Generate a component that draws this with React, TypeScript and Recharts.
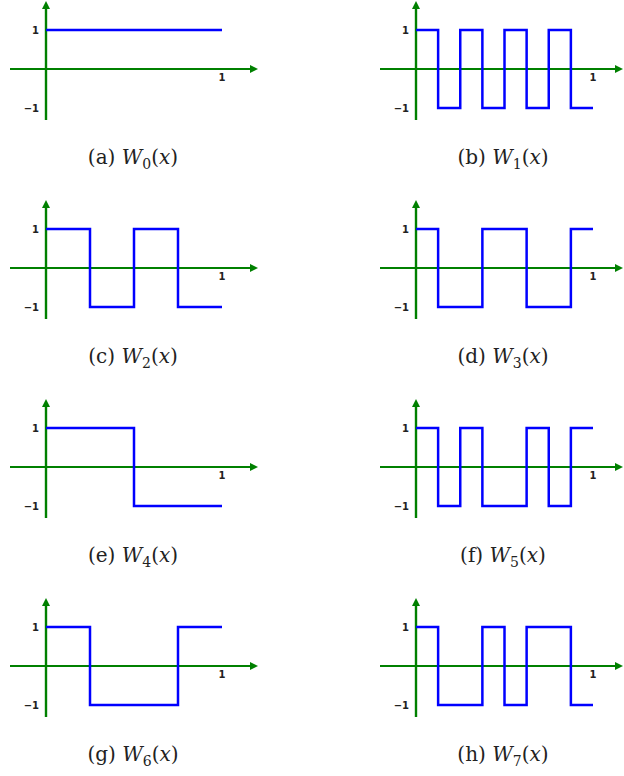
import React from 'react';
import { LineChart, Line, XAxis, YAxis, ReferenceLine, ReferenceDot } from 'recharts';

// Walsh functions W0..W7 on [0, 1), one value per 1/8 interval
const breaks = [0, 0.125, 0.25, 0.375, 0.5, 0.625, 0.75, 0.875, 1];
const w0 = [1, 1, 1, 1, 1, 1, 1, 1];
const w1 = [1, -1, 1, -1, 1, -1, 1, -1];
const w2 = [1, 1, -1, -1, 1, 1, -1, -1];
const w3 = [1, -1, -1, 1, 1, -1, -1, 1];
const w4 = [1, 1, 1, 1, -1, -1, -1, -1];
const w5 = [1, -1, 1, -1, -1, 1, -1, 1];
const w6 = [1, 1, -1, -1, -1, -1, 1, 1];
const w7 = [1, -1, -1, 1, -1, 1, 1, -1];

const series = [w0, w1, w2, w3, w4, w5, w6, w7];
const letters = ['a', 'b', 'c', 'd', 'e', 'f', 'g', 'h'];
const yTicks = [1, -1];
const xTicks = [1];

const GREEN = '#008000';
const BLUE = '#0000ff';

const toData = (vals: number[]) =>
    breaks.map((x, i) => ({ x, y: vals[Math.min(i, vals.length - 1)] }));

// column geometry: chart left edge, chart width, pixels per unit on x
const cols = [
    { left: 10, width: 250, ppu: 176, tip: 258, capX: 133 },
    { left: 380, width: 244, ppu: 177, tip: 623, capX: 503 },
];
const ORIGIN = 36;   // px from chart left to x = 0
const ROW_H = 199;
const CH = 122;       // chart height
const Y0 = 69;        // px from chart top to y = 0
const YPPU = 39;

const Arrow = (props: any) => {
    const { x1, y1, x2, y2, stroke, strokeWidth } = props;
    if ([x1, y1, x2, y2].some((v) => v == null || isNaN(v))) return null;
    const dx = x2 - x1;
    const dy = y2 - y1;
    const len = Math.sqrt(dx * dx + dy * dy) || 1;
    const ux = dx / len;
    const uy = dy / len;
    const head = 8;
    const half = 4;
    const bx = x2 - ux * head;
    const by = y2 - uy * head;
    const pts = [
        `${x2},${y2}`,
        `${bx - uy * half},${by + ux * half}`,
        `${bx + uy * half},${by - ux * half}`,
    ].join(' ');
    return (
        <g>
            <line x1={x1} y1={y1} x2={x2 - ux * 4} y2={y2 - uy * 4} stroke={stroke} strokeWidth={strokeWidth} />
            <polygon points={pts} fill={stroke} />
        </g>
    );
};

const tickStyle = {
    fontSize: 10,
    fontWeight: 'bold' as const,
    fill: '#222',
    fontFamily: 'DejaVu Sans',
};

const Panel = ({ idx }: { idx: number }) => {
    const col = cols[idx % 2];
    const row = Math.floor(idx / 2);
    const xMin = -ORIGIN / col.ppu;
    const xMax = (col.width - ORIGIN) / col.ppu;
    const xTip = (col.tip - col.left - ORIGIN) / col.ppu;
    const yMax = Y0 / YPPU;
    const yMin = -(CH - Y0) / YPPU;
    return (
        <div style={{ position: 'absolute', left: col.left, top: row * ROW_H, width: col.width, height: CH }}>
            <LineChart width={col.width} height={CH} data={toData(series[idx])} margin={{ top: 0, right: 0, bottom: 0, left: 0 }}>
                <XAxis dataKey="x" type="number" domain={[xMin, xMax]} allowDataOverflow hide />
                <YAxis type="number" domain={[yMin, yMax]} allowDataOverflow hide />
                <ReferenceLine
                    segment={[{ x: xMin, y: 0 }, { x: xTip, y: 0 }]}
                    stroke={GREEN}
                    strokeWidth={2}
                    ifOverflow="visible"
                    shape={Arrow}
                />
                <ReferenceLine
                    segment={[{ x: 0, y: -51 / YPPU }, { x: 0, y: 68 / YPPU }]}
                    stroke={GREEN}
                    strokeWidth={2.4}
                    ifOverflow="visible"
                    shape={Arrow}
                />
                <Line
                    type="stepAfter"
                    dataKey="y"
                    stroke={BLUE}
                    strokeWidth={2.5}
                    dot={false}
                    isAnimationActive={false}
                />
                {yTicks.map((t) => (
                    <ReferenceDot
                        key={`y${t}`}
                        x={0}
                        y={t}
                        r={0}
                        ifOverflow="visible"
                        label={{ value: t < 0 ? `\u2212${-t}` : `${t}`, position: 'left', offset: 7, ...tickStyle }}
                    />
                ))}
                {xTicks.map((t) => (
                    <ReferenceDot
                        key={`x${t}`}
                        x={t}
                        y={0}
                        r={0}
                        ifOverflow="visible"
                        label={{ value: `${t}`, position: 'bottom', offset: 5, ...tickStyle }}
                    />
                ))}
            </LineChart>
        </div>
    );
};

const Caption = ({ idx }: { idx: number }) => {
    const col = cols[idx % 2];
    const row = Math.floor(idx / 2);
    return (
        <div
            style={{
                position: 'absolute',
                left: col.capX - 80,
                width: 160,
                top: row * ROW_H + 144,
                textAlign: 'center',
                fontFamily: 'DejaVu Serif',
                fontSize: 20,
                color: '#222',
                lineHeight: '26px',
                whiteSpace: 'nowrap',
            }}
        >
            ({letters[idx]}) <i>W</i>
            <span style={{ fontSize: 14, position: 'relative', top: 5 }}>{idx}</span>(<i>x</i>)
        </div>
    );
};

export default function App() {
    return (
        <div style={{ position: 'absolute', left: 0, top: 0, width: 624, height: 776, background: '#fff', overflow: 'hidden' }}>
            {series.map((_, i) => (
                <React.Fragment key={i}>
                    <Panel idx={i} />
                    <Caption idx={i} />
                </React.Fragment>
            ))}
        </div>
    );
}
